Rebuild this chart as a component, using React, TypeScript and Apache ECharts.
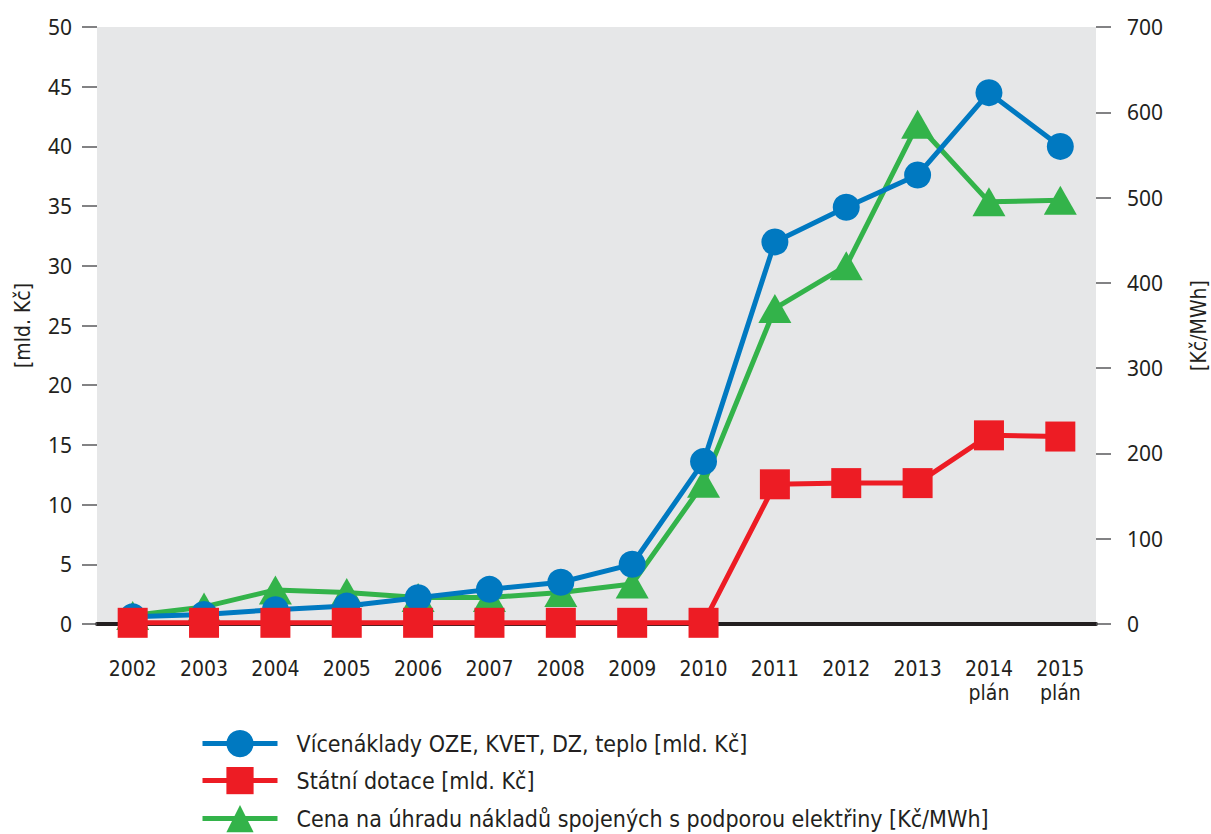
import React, { useEffect, useRef } from "react";
import * as echarts from "echarts";

const categories = ["2002", "2003", "2004", "2005", "2006", "2007", "2008", "2009", "2010", "2011", "2012", "2013", "2014\nplán", "2015\nplán"];
const vicenaklady = [0.6, 0.8, 1.2, 1.5, 2.2, 2.9, 3.5, 5.0, 13.6, 32.0, 34.9, 37.6, 44.5, 40.0];
const statniDotace = [0.1, 0.1, 0.1, 0.1, 0.1, 0.1, 0.1, 0.1, 0.1, 11.7, 11.8, 11.8, 15.8, 15.7];
const cenaUhrada = [10, 20, 40, 37, 31, 31, 37, 47, 165, 370, 420, 586, 495, 497];

const nameBlue = "Vícenáklady OZE, KVET, DZ, teplo [mld. Kč]";
const nameRed = "Státní dotace [mld. Kč]";
const nameGreen = "Cena na úhradu nákladů spojených s podporou elektřiny [Kč/MWh]";
const legendNames = [nameBlue, nameRed, nameGreen];
const legendTops = [730, 767, 805];

const COND = "'DejaVu Sans Condensed', 'Liberation Sans Narrow', 'Roboto', sans-serif";
const NUM = "'Noto Sans', 'Open Sans', sans-serif";

export default function App() {
  const ref = useRef<HTMLDivElement>(null);
  useEffect(() => {
    if (!ref.current) return;
    const chart = echarts.init(ref.current, null, { renderer: "svg" });
    chart.setOption({
      animation: false,
      grid: {
        left: 97,
        right: 115,
        top: 27,
        bottom: 210,
        show: true,
        backgroundColor: "#e6e7e8",
        borderWidth: 0,
        containLabel: false,
        outerBoundsMode: "none",
      },
      legend: legendNames.map((n, i) => ({
        orient: "vertical",
        left: 200,
        top: legendTops[i],
        padding: 0,
        itemWidth: 75,
        itemHeight: 34,
        itemGap: 0,
        data: [n],
        lineStyle: { width: 5 },
        textStyle: { fontFamily: COND, fontSize: 23, color: "#231f20", padding: [0, 0, 0, 14] },
      })),
      xAxis: {
        type: "category",
        data: categories,
        boundaryGap: true,
        axisLine: { show: true, lineStyle: { color: "#231f20", width: 4 } },
        axisTick: { show: false },
        axisLabel: { fontFamily: COND, fontSize: 21, color: "#231f20", margin: 33, lineHeight: 24, interval: 0 },
        splitLine: { show: false },
      },
      yAxis: [
        {
          type: "value",
          min: 0,
          max: 50,
          interval: 5,
          position: "left",
          name: "[mld. Kč]",
          nameLocation: "middle",
          nameGap: 64,
          nameTextStyle: { fontFamily: COND, fontSize: 21, color: "#231f20" },
          axisLine: { show: false },
          axisTick: { show: true, length: 15, inside: false, lineStyle: { color: "#58595b", width: 1.5 } },
          axisLabel: { fontFamily: NUM, fontSize: 21, color: "#231f20", margin: 25 },
          splitLine: { show: false },
        },
        {
          type: "value",
          min: 0,
          max: 700,
          interval: 100,
          position: "right",
          name: "[Kč/MWh]",
          nameLocation: "middle",
          nameGap: 92,
          nameRotate: 90,
          nameTextStyle: { fontFamily: COND, fontSize: 21, color: "#231f20" },
          axisLine: { show: false },
          axisTick: { show: true, length: 15, inside: false, lineStyle: { color: "#58595b", width: 1.5 } },
          axisLabel: { fontFamily: NUM, fontSize: 21, color: "#231f20", margin: 31 },
          splitLine: { show: false },
        },
      ],
      series: [
        {
          name: nameGreen,
          type: "line",
          yAxisIndex: 1,
          data: cenaUhrada,
          symbol: "triangle",
          symbolSize: [33, 29],
          color: "#33b34a",
          lineStyle: { width: 5, color: "#33b34a" },
          itemStyle: { color: "#33b34a" },
          z: 2,
        },
        {
          name: nameBlue,
          type: "line",
          yAxisIndex: 0,
          data: vicenaklady,
          symbol: "circle",
          symbolSize: 27,
          color: "#0079c1",
          lineStyle: { width: 5, color: "#0079c1" },
          itemStyle: { color: "#0079c1" },
          z: 3,
        },
        {
          name: nameRed,
          type: "line",
          yAxisIndex: 0,
          data: statniDotace,
          symbol: "rect",
          symbolSize: 30,
          color: "#ed1c24",
          lineStyle: { width: 5, color: "#ed1c24" },
          itemStyle: { color: "#ed1c24" },
          z: 4,
        },
      ],
    });
    return () => chart.dispose();
  }, []);
  return <div ref={ref} style={{ width: 1211, height: 834, position: "absolute", left: 0, top: 0 }} />;
}
